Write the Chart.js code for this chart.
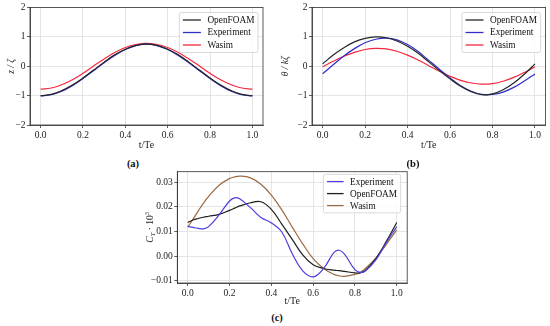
<!DOCTYPE html>
<html>
<head>
<meta charset="utf-8">
<script src="https://cdn.jsdelivr.net/npm/chart.js@4.4.0/dist/chart.umd.min.js"></script>
<style>
  body { margin: 0; background: #fff; width: 550px; height: 326px; overflow: hidden; position: relative; font-family: "Liberation Serif", serif; }
  .box { position: absolute; }
  .lab { position: absolute; font-weight: bold; font-size: 10.5px; color: #111; transform: translate(-50%, -50%); }
</style>
</head>
<body>
<div class="box" style="left:0;top:0;width:275px;height:152px"><canvas id="chartA"></canvas></div>
<div class="box" style="left:275px;top:0;width:275px;height:152px"><canvas id="chartB"></canvas></div>
<div class="box" style="left:140px;top:160px;width:280px;height:150px"><canvas id="chartC"></canvas></div>
<div class="lab" style="left:133px;top:163px">(a)</div>
<div class="lab" style="left:413px;top:163px">(b)</div>
<div class="lab" style="left:277px;top:317px">(c)</div>
<script>
// ---- DATA ----
const tAB = [0, 0.05, 0.1, 0.15, 0.2, 0.25, 0.3, 0.35, 0.4, 0.45, 0.5, 0.55, 0.6, 0.65, 0.7, 0.75, 0.8, 0.85, 0.9, 0.95, 1.0];

// (a) heave z/zeta
const heaveOpenFOAM   = [-1.00, -0.96, -0.83, -0.64, -0.40, -0.13, 0.14, 0.39, 0.58, 0.71, 0.75, 0.71, 0.58, 0.39, 0.14, -0.13, -0.40, -0.64, -0.83, -0.96, -1.00];
const heaveExperiment = [-1.01, -0.97, -0.85, -0.66, -0.42, -0.15, 0.12, 0.37, 0.57, 0.70, 0.76, 0.70, 0.57, 0.37, 0.12, -0.15, -0.42, -0.66, -0.85, -0.97, -1.01];
const heaveWasim      = [-0.78, -0.74, -0.63, -0.46, -0.24, 0.01, 0.25, 0.47, 0.64, 0.74, 0.78, 0.74, 0.64, 0.47, 0.25, 0.01, -0.24, -0.46, -0.63, -0.74, -0.78];

// (b) pitch theta/k zeta
const pitchOpenFOAM   = [0.08, 0.38, 0.63, 0.83, 0.95, 1.00, 0.97, 0.86, 0.68, 0.44, 0.15, -0.15, -0.43, -0.68, -0.87, -0.97, -0.94, -0.80, -0.57, -0.27, 0.08];
const pitchExperiment = [-0.26, 0.05, 0.35, 0.60, 0.80, 0.92, 0.96, 0.90, 0.74, 0.50, 0.20, -0.10, -0.40, -0.66, -0.85, -0.96, -0.96, -0.88, -0.72, -0.50, -0.26];
const pitchWasim      = [-0.02, 0.17, 0.34, 0.47, 0.57, 0.61, 0.59, 0.51, 0.38, 0.21, 0.02, -0.17, -0.34, -0.48, -0.57, -0.61, -0.59, -0.51, -0.38, -0.21, -0.02];

// (c) thrust coefficient C_T * 10^3
const tC = [0, 0.025, 0.05, 0.075, 0.1, 0.15, 0.2, 0.225, 0.25, 0.3, 0.35, 0.4, 0.45, 0.5, 0.55, 0.6, 0.65, 0.7, 0.725, 0.75, 0.8, 0.825, 0.85, 0.9, 0.95, 1.0];
const ctExperiment = [0.0121, 0.0117, 0.0113, 0.0111, 0.0120, 0.0168, 0.0224, 0.0237, 0.0232, 0.0197, 0.0157, 0.0135, 0.0098, 0.0010, -0.0060, -0.0084, -0.0050, 0.0015, 0.0024, 0.0008, -0.0055, -0.0066, -0.0060, -0.0015, 0.0055, 0.0120];
const ctOpenFOAM   = [0.0137, 0.0147, 0.0153, 0.0158, 0.0162, 0.0170, 0.0186, 0.0195, 0.0204, 0.0217, 0.0221, 0.0190, 0.0130, 0.0068, 0.0005, -0.0035, -0.0050, -0.0057, -0.0059, -0.0062, -0.0068, -0.0068, -0.0058, -0.0010, 0.0060, 0.0137];
const ctWasim      = [0.0118, 0.0150, 0.0183, 0.0215, 0.0243, 0.0288, 0.0315, 0.0322, 0.0325, 0.0318, 0.0292, 0.0248, 0.0188, 0.0118, 0.0050, -0.0010, -0.0050, -0.0074, -0.0080, -0.0082, -0.0074, -0.0066, -0.0050, -0.0008, 0.0048, 0.0107];

// ---- TICKS ----
const xTicks = [0, 0.2, 0.4, 0.6, 0.8, 1.0];
const yTicksAB = [-2, -1, 0, 1, 2];
const yTicksC = [-0.01, 0, 0.01, 0.02, 0.03];

// ---- STYLE ----
const FONT = '"Liberation Serif", serif';
const tickFont = { family: FONT, size: 9.5 };
const minus = s => s.replace('-', '\u2212');

const pts = (xs, ys) => xs.map((x, i) => ({ x: x, y: ys[i] }));
const line = (label, color, xs, ys) => ({
  label: label, data: pts(xs, ys), borderColor: color, backgroundColor: color,
  borderWidth: 1.2, pointRadius: 0, fill: false, tension: 0.4
});

// frame round the plot + matplotlib-like legend box
const frameLegend = {
  id: 'frameLegend',
  afterDatasetsDraw(chart, args, opts) {
    const { ctx, chartArea: a } = chart;
    ctx.save();
    ctx.strokeStyle = '#333';
    ctx.lineWidth = 0.8;
    ctx.strokeRect(a.left, a.top, a.right - a.left, a.bottom - a.top);

    const fs = opts.fontSize || 9.3;
    ctx.font = fs + 'px ' + FONT;
    const items = chart.data.datasets;
    const tw = Math.max(...items.map(d => ctx.measureText(d.label).width));
    const pad = 3.6, hl = opts.handle || 18, gap = 6.5, rowH = opts.rowH || 12.5;
    const w = pad + hl + gap + tw + pad;
    const h = rowH * (items.length - 1) + 2 * (opts.first || 7.5);
    const x0 = a.right - (opts.dx || 5) - w;
    const y0 = a.top + (opts.dy || 5);
    ctx.fillStyle = 'rgba(255,255,255,0.85)';
    ctx.strokeStyle = '#cfcfcf';
    ctx.beginPath();
    ctx.roundRect(x0, y0, w, h, 2);
    ctx.fill();
    ctx.stroke();
    items.forEach((d, i) => {
      const y = y0 + (opts.first || 7.5) + i * rowH;
      ctx.strokeStyle = d.borderColor;
      ctx.lineWidth = 1.3;
      ctx.beginPath();
      ctx.moveTo(x0 + pad, y);
      ctx.lineTo(x0 + pad + hl, y);
      ctx.stroke();
      ctx.fillStyle = '#111';
      ctx.textBaseline = 'middle';
      ctx.fillText(d.label, x0 + pad + hl + gap, y + 0.5);
    });
    ctx.restore();
  },
  afterDraw(chart, args, opts) {
    if (!opts.ctTitle) return;
    // y title C_T · 10^3 with sub/superscript
    const { ctx, chartArea: a } = chart;
    ctx.save();
    ctx.translate(opts.ctTitle, (a.top + a.bottom) / 2);
    ctx.rotate(-Math.PI / 2);
    ctx.fillStyle = '#222';
    ctx.textBaseline = 'alphabetic';
    const parts = [
      { t: 'C', f: 'italic 9.5px ' + FONT, dy: 0 },
      { t: 'T', f: 'italic 6.5px ' + FONT, dy: 2 },
      { t: ' \u00b7 10', f: '9.5px ' + FONT, dy: 0 },
      { t: '3', f: '6.5px ' + FONT, dy: -4 }
    ];
    let total = 0;
    parts.forEach(p => { ctx.font = p.f; p.w = ctx.measureText(p.t).width; total += p.w; });
    let x = -total / 2;
    parts.forEach(p => { ctx.font = p.f; ctx.fillText(p.t, x, 3 + p.dy); x += p.w; });
    ctx.restore();
  }
};

function xScale(h, tickPad, titlePad) {
  return {
    type: 'linear', min: -0.05, max: 1.05,
    afterBuildTicks: s => { s.ticks = xTicks.map(v => ({ value: v })); },
    afterFit: s => { s.height = h; },
    ticks: { font: tickFont, color: '#222', padding: tickPad, maxRotation: 0, autoSkip: false,
             callback: v => v.toFixed(1) },
    grid: { color: '#dedede', lineWidth: 0.8, tickColor: '#333', tickLength: 3 },
    border: { color: '#333', width: 0.8 },
    title: { display: true, text: 't/Te', color: '#222', font: { family: FONT, size: 10 },
             padding: { top: 0, bottom: titlePad } }
  };
}

function yScale(min, max, ticks, fmt, w, title, titlePad) {
  return {
    type: 'linear', min: min, max: max,
    afterBuildTicks: s => { s.ticks = ticks.map(v => ({ value: v })); },
    afterFit: s => { s.width = w; },
    ticks: { font: tickFont, color: '#222', padding: 1.5, callback: v => minus(fmt(v)) },
    grid: { color: '#dedede', lineWidth: 0.8, tickColor: '#333', tickLength: 3 },
    border: { color: '#333', width: 0.8 },
    title: { display: !!title, text: title, color: '#222',
             font: { family: FONT, size: 9.5, style: 'italic' },
             padding: { top: titlePad, bottom: 0 } }
  };
}

function makeChart(id, datasets, x, y, padding, legendOpts) {
  return new Chart(document.getElementById(id), {
    type: 'line',
    data: { datasets: datasets },
    options: {
      responsive: true, maintainAspectRatio: false, animation: false,
      layout: { padding: padding },
      plugins: { legend: { display: false }, tooltip: { enabled: false }, frameLegend: legendOpts },
      scales: { x: x, y: y }
    },
    plugins: [frameLegend]
  });
}

const colBlack = '#262626', colBlue = '#2f2fc8', colRed = '#f5283f';

makeChart('chartA', [
  line('OpenFOAM', colBlack, tAB, heaveOpenFOAM),
  line('Experiment', colBlue, tAB, heaveExperiment),
  line('Wasim', colRed, tAB, heaveWasim)
], xScale(27, 2, 0.8), yScale(-2, 2, yTicksAB, v => String(v), 30, 'z / \u03b6', 6),
  { top: 7.5, right: 12, left: 0, bottom: 0 }, {});

makeChart('chartB', [
  line('OpenFOAM', colBlack, tAB, pitchOpenFOAM),
  line('Experiment', colBlue, tAB, pitchExperiment),
  line('Wasim', colRed, tAB, pitchWasim)
], xScale(27, 2, 0.8), yScale(-2, 2, yTicksAB, v => String(v), 37, '\u03b8 / k\u03b6', 4.3),
  { top: 7.5, right: 4.4, left: 0, bottom: 0 }, {});

makeChart('chartC', [
  line('Experiment', '#4b3ee0', tC, ctExperiment),
  line('OpenFOAM', '#1e1e1e', tC, ctOpenFOAM),
  line('Wasim', '#9c6a45', tC, ctWasim)
], xScale(27, 1.5, 3), yScale(-0.0109, 0.0343, yTicksC, v => v.toFixed(2), 37.3, '', 0),
  { top: 11.7, right: 12.8, left: 0, bottom: 0 },
  { dx: 6.5, dy: 2.6, rowH: 12, first: 7.3, handle: 16.6, ctTitle: 10 });
</script>
</body>
</html>
